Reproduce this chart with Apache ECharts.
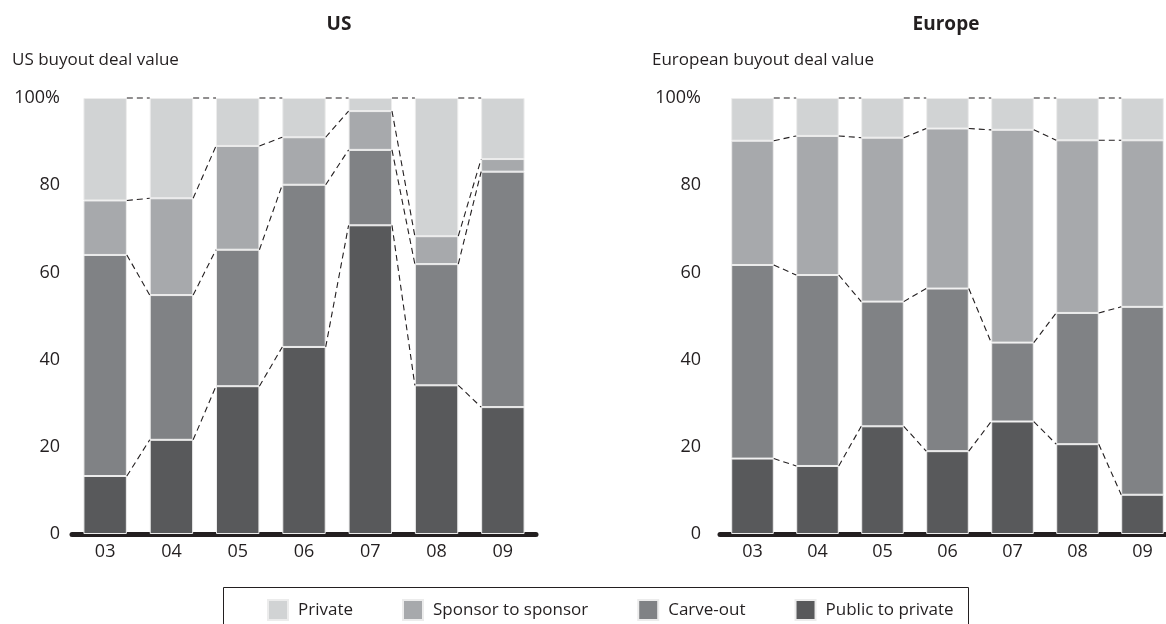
<!DOCTYPE html>
<html>
<head>
<meta charset="utf-8">
<script src="https://cdn.jsdelivr.net/npm/echarts@6/dist/echarts.min.js"></script>
<style>
html,body{margin:0;padding:0;background:#fff;overflow:hidden;width:1166px;height:624px;}
#chart{width:1180px;height:624px;}
</style>
</head>
<body>
<div id="chart"></div>
<script>
// ---- data ----
var categories = ['03', '04', '05', '06', '07', '08', '09'];
var seriesNames = ['Private', 'Sponsor to sponsor', 'Carve-out', 'Public to private'];
var yTicks = [0, 20, 40, 60, 80, 100];

var usPublic  = [13.3, 21.6, 33.9, 42.9, 70.8, 34.1, 29.1];
var usCarve   = [50.7, 33.2, 31.3, 37.2, 17.3, 27.8, 54.0];
var usSponsor = [12.5, 22.2, 23.8, 10.9, 8.9, 6.4, 2.9];
var usPrivate = [23.5, 23.0, 11.0, 9.0, 3.0, 31.7, 14.0];

var euPublic  = [17.3, 15.6, 24.7, 19.0, 25.8, 20.6, 9.0];
var euCarve   = [44.4, 43.8, 28.6, 37.3, 18.1, 30.1, 43.1];
var euSponsor = [28.5, 31.9, 37.6, 36.7, 48.8, 39.6, 38.2];
var euPrivate = [9.8, 8.7, 9.1, 7.0, 7.3, 9.7, 9.7];

// ---- style ----
var colors = {
  'Private': '#d1d3d4',
  'Sponsor to sponsor': '#a7a9ac',
  'Carve-out': '#808285',
  'Public to private': '#58595b'
};
var ink = '#231f20';
var font = 'Open Sans';
var barRatio = 0.655;

function cumulative(stacks) {
  var levels = [];
  var run = categories.map(function () { return 0; });
  stacks.forEach(function (arr) {
    run = run.map(function (v, i) { return v + arr[i]; });
    levels.push(run.slice());
  });
  return levels;
}

function connectorData(stacks) {
  var levels = cumulative(stacks);
  var out = [];
  levels.forEach(function (lv) {
    for (var i = 0; i < categories.length - 1; i++) {
      out.push([i, lv[i], lv[i + 1]]);
    }
  });
  return out;
}

function renderConnector(params, api) {
  var i = api.value(0);
  var p1 = api.coord([i, api.value(1)]);
  var p2 = api.coord([i + 1, api.value(2)]);
  var half = api.size([1, 0])[0] * barRatio / 2;
  return {
    type: 'line',
    shape: { x1: p1[0] + half, y1: p1[1], x2: p2[0] - half, y2: p2[1] },
    style: { stroke: ink, lineWidth: 1.1, lineDash: [6, 4] },
    silent: true
  };
}

function barSeries(name, data, idx) {
  return {
    name: name,
    type: 'bar',
    stack: 's' + idx,
    xAxisIndex: idx,
    yAxisIndex: idx,
    barWidth: (barRatio * 100) + '%',
    data: data,
    itemStyle: { color: colors[name], borderColor: '#ececec', borderWidth: 1 },
    emphasis: { disabled: true },
    z: 2
  };
}

function xAxis(idx) {
  return {
    type: 'category',
    gridIndex: idx,
    data: categories,
    axisLine: { lineStyle: { color: ink, width: 5 } },
    axisTick: { show: false },
    axisLabel: { color: ink, fontSize: 18, fontFamily: font, margin: 9 }
  };
}

function yAxis(idx, margin) {
  return {
    type: 'value',
    gridIndex: idx,
    min: 0, max: 100, interval: 20,
    splitLine: { show: false },
    axisLine: { show: false },
    axisTick: { show: false },
    axisLabel: {
      color: ink, fontSize: 18, fontFamily: font, margin: margin,
      formatter: function (v) { return yTicks.indexOf(v) >= 0 ? (v === 100 ? '100%' : String(v)) : ''; }
    }
  };
}

var usStacks = [usPublic, usCarve, usSponsor, usPrivate];
var euStacks = [euPublic, euCarve, euSponsor, euPrivate];

var series = [];
series.push(barSeries('Public to private', usPublic, 0));
series.push(barSeries('Carve-out', usCarve, 0));
series.push(barSeries('Sponsor to sponsor', usSponsor, 0));
series.push(barSeries('Private', usPrivate, 0));
series.push(barSeries('Public to private', euPublic, 1));
series.push(barSeries('Carve-out', euCarve, 1));
series.push(barSeries('Sponsor to sponsor', euSponsor, 1));
series.push(barSeries('Private', euPrivate, 1));
series.push({ type: 'custom', xAxisIndex: 0, yAxisIndex: 0, data: connectorData(usStacks), renderItem: renderConnector, z: 3, silent: true });
series.push({ type: 'custom', xAxisIndex: 1, yAxisIndex: 1, data: connectorData(euStacks), renderItem: renderConnector, z: 3, silent: true });

var chart = echarts.init(document.getElementById('chart'), null, { renderer: 'canvas' });
chart.setOption({
  animation: false,
  backgroundColor: '#ffffff',
  grid: [
    { left: 72, width: 464, top: 98, bottom: 90 },
    { left: 720, width: 455, top: 98, bottom: 90 }
  ],
  xAxis: [xAxis(0), xAxis(1)],
  yAxis: [yAxis(0, 12), yAxis(1, 19)],
  legend: {
    data: seriesNames,
    left: 267, top: 599,
    padding: 0,
    itemWidth: 20, itemHeight: 20, itemGap: 49,
    icon: 'rect',
    selectedMode: false,
    textStyle: { color: ink, fontSize: 17, fontFamily: font, padding: [0, 0, 0, 5] }
  },
  graphic: [
    { type: 'text', x: 339, y: 25, style: { text: 'US', font: 'bold 19px "' + font + '"', fill: ink, textAlign: 'center', textVerticalAlign: 'middle' } },
    { type: 'text', x: 946, y: 25, style: { text: 'Europe', font: 'bold 19px "' + font + '"', fill: ink, textAlign: 'center', textVerticalAlign: 'middle' } },
    { type: 'text', x: 12, y: 60, style: { text: 'US buyout deal value', font: '17px "' + font + '"', fill: ink, textAlign: 'left', textVerticalAlign: 'middle' } },
    { type: 'text', x: 652, y: 60, style: { text: 'European buyout deal value', font: '17px "' + font + '"', fill: ink, textAlign: 'left', textVerticalAlign: 'middle' } },
    { type: 'rect', shape: { x: 223.5, y: 587.5, width: 745, height: 60 }, style: { fill: 'none', stroke: ink, lineWidth: 1 }, silent: true }
  ],
  series: series
});
</script>
</body>
</html>
